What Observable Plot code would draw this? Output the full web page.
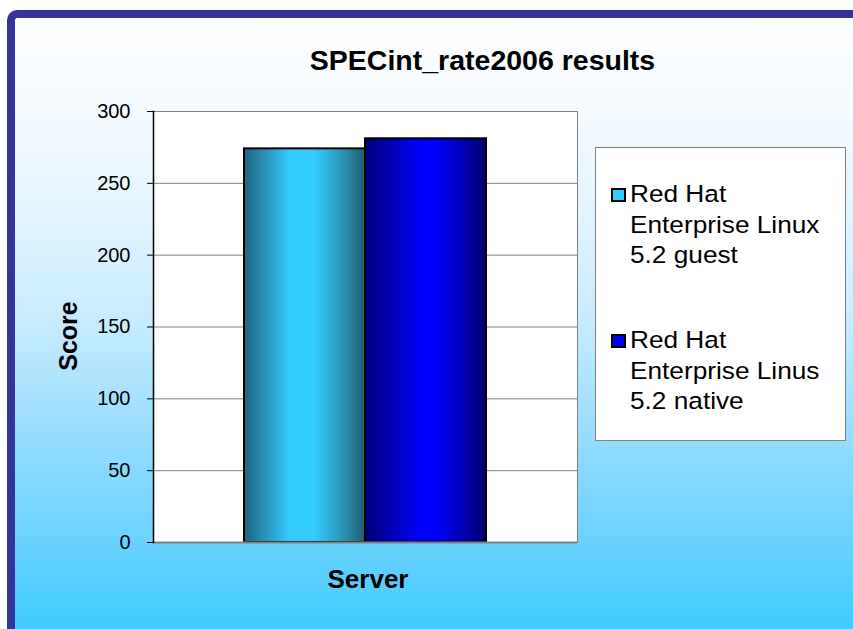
<!DOCTYPE html>
<html>
<head>
<meta charset="utf-8">
<script src="https://cdn.jsdelivr.net/npm/d3@7"></script>
<script src="https://cdn.jsdelivr.net/npm/@observablehq/plot@0.6"></script>
<style>
  html, body { margin: 0; padding: 0; background: #ffffff; }
  body { width: 853px; height: 629px; position: relative; overflow: hidden;
         font-family: "Liberation Sans", Arial, Helvetica, sans-serif; }
  #panel { position: absolute; left: 7px; top: 10px; width: 870px; height: 640px;
           border-left: 8px solid #333399; border-top: 8px solid #333399;
           border-top-left-radius: 10px;
           background: linear-gradient(to bottom, #ffffff 0%, #f4faff 15%, #e4f5ff 30%, #c6ebff 48%, #99ddff 64%, #6fd3ff 80%, #3fcbff 96%, #38c9ff 100%); }
  #chart { position: absolute; left: 0; top: 0; }
  .t { position: absolute; color: #000; white-space: nowrap; }
  #title { left: 0; width: 965px; top: 43px; text-align: center; font-weight: bold; font-size: 28.5px; line-height: 34px; }
  #ylabel { left: 68px; top: 336px; font-weight: bold; font-size: 25px; transform: translate(-50%, -50%) rotate(-90deg); }
  #xlabel { left: 368px; top: 579px; font-weight: bold; font-size: 26px; transform: translate(-50%, -50%); }
  #legend { position: absolute; left: 595px; top: 147px; width: 249px; height: 292px;
            background: #ffffff; border: 1px solid #808080; }
  .sw { position: absolute; width: 11px; height: 10px; border: 2px solid #000; }
  .lt { position: absolute; left: 34px; font-size: 24.5px; line-height: 30.5px; transform: scaleX(1.07); transform-origin: 0 0; white-space: nowrap; }
</style>
</head>
<body>
<div id="panel"></div>
<div id="chart"></div>
<div class="t" id="title"></div>
<div class="t" id="ylabel"></div>
<div class="t" id="xlabel"></div>
<div id="legend"></div>
<script>
// ---- data ----
const titleText = "SPECint_rate2006 results";
const yTitle = "Score";
const xTitle = "Server";
const seriesNames = ["Red Hat Enterprise Linux 5.2 guest", "Red Hat Enterprise Linus 5.2 native"];
const legendLines = [["Red Hat", "Enterprise Linux", "5.2 guest"], ["Red Hat", "Enterprise Linus", "5.2 native"]];
const scores = [274, 281];
const yTicks = [0, 50, 100, 150, 200, 250, 300];
const seriesColors = ["#33ccff", "#0000ff"];
const gradIds = ["gradGuest", "gradNative"];

const data = seriesNames.map((s, i) => ({series: s, score: scores[i]}));

document.getElementById("title").textContent = titleText;
document.getElementById("ylabel").textContent = yTitle;
document.getElementById("xlabel").textContent = xTitle;

const plot = Plot.plot({
  width: 853,
  height: 629,
  marginLeft: 153,
  marginRight: 276,
  marginTop: 111,
  marginBottom: 87,
  style: {background: "transparent", fontFamily: "'Liberation Sans', Arial, sans-serif", color: "#000", overflow: "visible"},
  x: {domain: seriesNames, paddingInner: 0, paddingOuter: 0.752, axis: null},
  y: {domain: [0, 300], label: null},
  marks: [
    Plot.frame({fill: "#ffffff", stroke: "#808080", strokeWidth: 1}),
    Plot.gridY(yTicks.filter(t => t > 0), {stroke: "#808080", strokeOpacity: 1, strokeWidth: 1}),
    Plot.barY(data.filter((d, i) => i === 0), {x: "series", y: "score", fill: `url(#${gradIds[0]})`, stroke: "#000", strokeWidth: 2}),
    Plot.barY(data.filter((d, i) => i === 1), {x: "series", y: "score", fill: `url(#${gradIds[1]})`, stroke: "#000", strokeWidth: 2}),
    Plot.ruleY([0], {stroke: "#808080", strokeWidth: 2}),
    Plot.frame({anchor: "left", stroke: "#000", strokeWidth: 1.5}),
    Plot.axisY({ticks: yTicks, tickSize: 6, tickPadding: 17, fontSize: 20, tickFormat: d => String(d), label: null, stroke: "#000"})
  ]
});

// gradients for the bars
const svg = d3.select(plot);
const defs = svg.insert("defs", ":first-child");
const g1 = defs.append("linearGradient").attr("id", gradIds[0]).attr("x1", 0).attr("x2", 1).attr("y1", 0).attr("y2", 0);
[[0, "#1d6580"], [0.18, "#2a94b8"], [0.38, "#33ccff"], [0.58, "#33ccff"], [0.8, "#2c98bb"], [1, "#215d70"]]
  .forEach(([o, c]) => g1.append("stop").attr("offset", o).attr("stop-color", c));
const g2 = defs.append("linearGradient").attr("id", gradIds[1]).attr("x1", 0).attr("x2", 1).attr("y1", 0).attr("y2", 0);
[[0, "#000078"], [0.2, "#0000b0"], [0.48, "#0000ff"], [0.6, "#0000f8"], [0.82, "#0000b0"], [1, "#00006c"]]
  .forEach(([o, c]) => g2.append("stop").attr("offset", o).attr("stop-color", c));

document.getElementById("chart").appendChild(plot);

// legend
const legend = document.getElementById("legend");
const entryTops = [31, 177];
legendLines.forEach((lines, i) => {
  const sw = document.createElement("div");
  sw.className = "sw";
  sw.style.left = "15px";
  sw.style.top = (entryTops[i] + 9) + "px";
  sw.style.background = seriesColors[i];
  legend.appendChild(sw);
  lines.forEach((ln, j) => {
    const t = document.createElement("div");
    t.className = "lt";
    t.style.top = (entryTops[i] + j * 30.5) + "px";
    t.textContent = ln;
    legend.appendChild(t);
  });
});
</script>
</body>
</html>
